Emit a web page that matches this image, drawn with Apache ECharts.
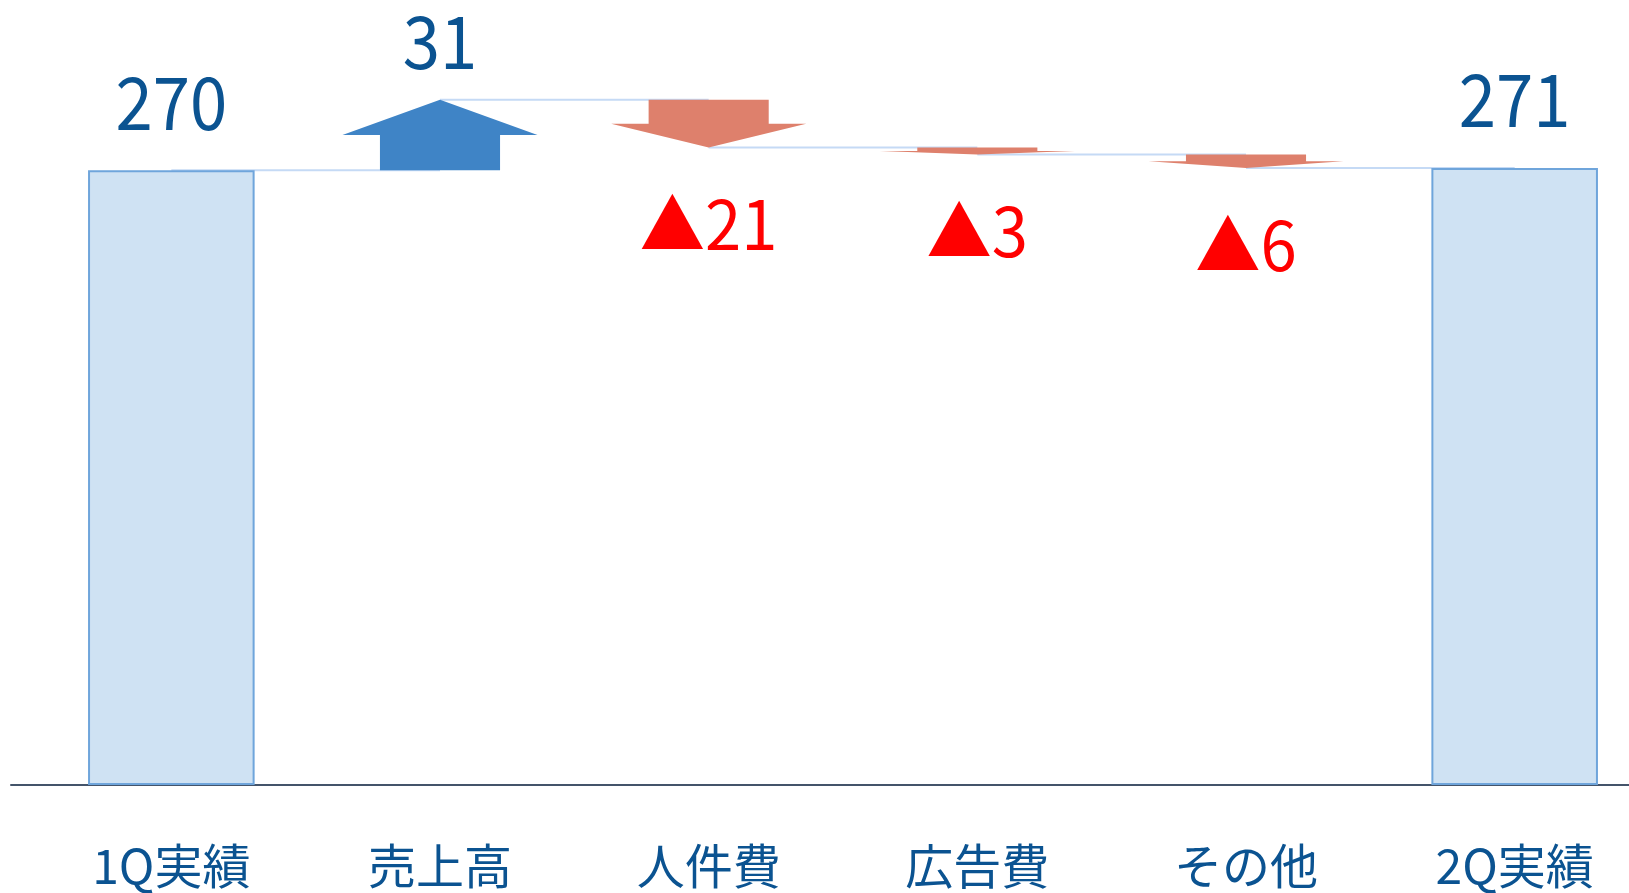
<!DOCTYPE html>
<html>
<head>
<meta charset="utf-8">
<script src="https://cdn.jsdelivr.net/npm/echarts@6/dist/echarts.min.js"></script>
<style>
  html, body { margin: 0; padding: 0; background: #ffffff; }
  #chart { width: 1629px; height: 893px; }
</style>
</head>
<body>
<div id="chart"></div>
<script>
// Operating profit bridge: 1Q result -> drivers -> 2Q result
const categories = ['1Q実績', '売上高', '人件費', '広告費', 'その他', '2Q実績'];
const startValue = 270;
const changes = [31, -21, -3, -6];
const endValue = 271;

const FONT = '"Noto Sans CJK JP", "Noto Sans CJK SC", sans-serif';
const BLUE_TEXT = '#0B5391';
const RED_TEXT = '#FF0000';
const UP_COLOR = '#3F84C6';
const DOWN_COLOR = '#DE806C';
const LINK_COLOR = '#C5DAF5';

// Arrow segments: [categoryIndex, fromLevel, toLevel, change]
const arrowData = [];
let level = startValue;
changes.forEach(function (c, i) {
  arrowData.push([i + 1, level, level + c, c]);
  level += c;
});

// Connector lines: [fromIndex, level] joins category i to i+1 at that level
const levels = [startValue];
changes.forEach(function (c) { levels.push(levels[levels.length - 1] + c); });
const linkData = levels.map(function (v, i) { return [i, v]; });

// Totals: first and last category
const barValues = categories.map(function (c, i) {
  if (i === 0) return startValue;
  if (i === categories.length - 1) return endValue;
  return '-';
});
const totalData = [[0, startValue], [categories.length - 1, endValue]];

function changeText(v) {
  return v > 0 ? String(v) : '\u25B2' + Math.abs(v);
}

function condensedText(text, x, y, vAlign, color, size, squeeze) {
  return {
    type: 'text',
    x: x,
    y: y,
    scaleX: squeeze,
    style: {
      text: text,
      x: 0,
      y: 0,
      align: 'center',
      verticalAlign: vAlign,
      fill: color,
      fontSize: size,
      lineHeight: size,
      fontFamily: FONT
    }
  };
}

function renderArrow(params, api) {
  const idx = api.value(0);
  const from = api.value(1);
  const to = api.value(2);
  const delta = api.value(3);
  const p0 = api.coord([idx, from]);
  const p1 = api.coord([idx, to]);
  const band = api.size([1, 0])[0];
  const bw = band * 0.447 / 2;
  const hw = band * 0.726 / 2;
  const cx = p0[0];
  const y0 = p0[1];
  const y1 = p1[1];
  const ym = (y0 + y1) / 2;
  const up = to > from;
  const pts = [
    [cx - bw, y0], [cx - bw, ym], [cx - hw, ym], [cx, y1],
    [cx + hw, ym], [cx + bw, ym], [cx + bw, y0]
  ];
  return {
    type: 'group',
    children: [
      {
        type: 'polygon',
        shape: { points: pts },
        style: { fill: up ? UP_COLOR : DOWN_COLOR }
      },
      up
        ? condensedText(changeText(delta), cx, y1 - 22, 'bottom', BLUE_TEXT, 73, 0.92)
        : condensedText(changeText(delta), cx, y1 + 43, 'top', RED_TEXT, 68, 0.96)
    ]
  };
}

function renderTotalLabel(params, api) {
  const p = api.coord([api.value(0), api.value(1)]);
  return condensedText(String(api.value(1)), p[0], p[1] - 32, 'bottom', BLUE_TEXT, 73, 0.92);
}

function renderLink(params, api) {
  const i = api.value(0);
  const v = api.value(1);
  const a = api.coord([i, v]);
  const b = api.coord([i + 1, v]);
  return {
    type: 'line',
    shape: { x1: a[0], y1: a[1], x2: b[0], y2: b[1] },
    style: { stroke: LINK_COLOR, lineWidth: 2 }
  };
}

const chart = echarts.init(document.getElementById('chart'));
chart.setOption({
  animation: false,
  backgroundColor: '#ffffff',
  grid: [
    { left: 37, width: 1612, top: 11, bottom: 108, outerBoundsMode: 'none', containLabel: false },
    { left: 11, right: 0, top: 11, bottom: 108, outerBoundsMode: 'none', containLabel: false }
  ],
  xAxis: [
    {
      type: 'category',
      gridIndex: 0,
      data: categories,
      axisLine: { show: false },
      axisTick: { show: false },
      axisLabel: {
        color: BLUE_TEXT,
        fontSize: 48,
        lineHeight: 48,
        fontFamily: FONT,
        margin: 57,
        interval: 0
      }
    },
    {
      type: 'value',
      gridIndex: 1,
      min: 0,
      max: 1,
      axisLine: { show: true, lineStyle: { color: '#44546A', width: 2 } },
      axisTick: { show: false },
      axisLabel: { show: false },
      splitLine: { show: false }
    }
  ],
  yAxis: [
    { type: 'value', gridIndex: 0, min: 0, max: 340, show: false },
    { type: 'value', gridIndex: 1, min: 0, max: 1, show: false }
  ],
  series: [
    {
      type: 'custom',
      xAxisIndex: 0,
      yAxisIndex: 0,
      z: 1,
      silent: true,
      renderItem: renderLink,
      data: linkData
    },
    {
      type: 'bar',
      xAxisIndex: 0,
      yAxisIndex: 0,
      z: 2,
      barWidth: '62%',
      data: barValues,
      itemStyle: { color: '#CFE2F3', borderColor: '#6FA5DB', borderWidth: 2 }
    },
    {
      type: 'custom',
      xAxisIndex: 0,
      yAxisIndex: 0,
      z: 3,
      silent: true,
      renderItem: renderTotalLabel,
      data: totalData
    },
    {
      type: 'custom',
      xAxisIndex: 0,
      yAxisIndex: 0,
      z: 3,
      renderItem: renderArrow,
      data: arrowData
    }
  ]
});
</script>
</body>
</html>
